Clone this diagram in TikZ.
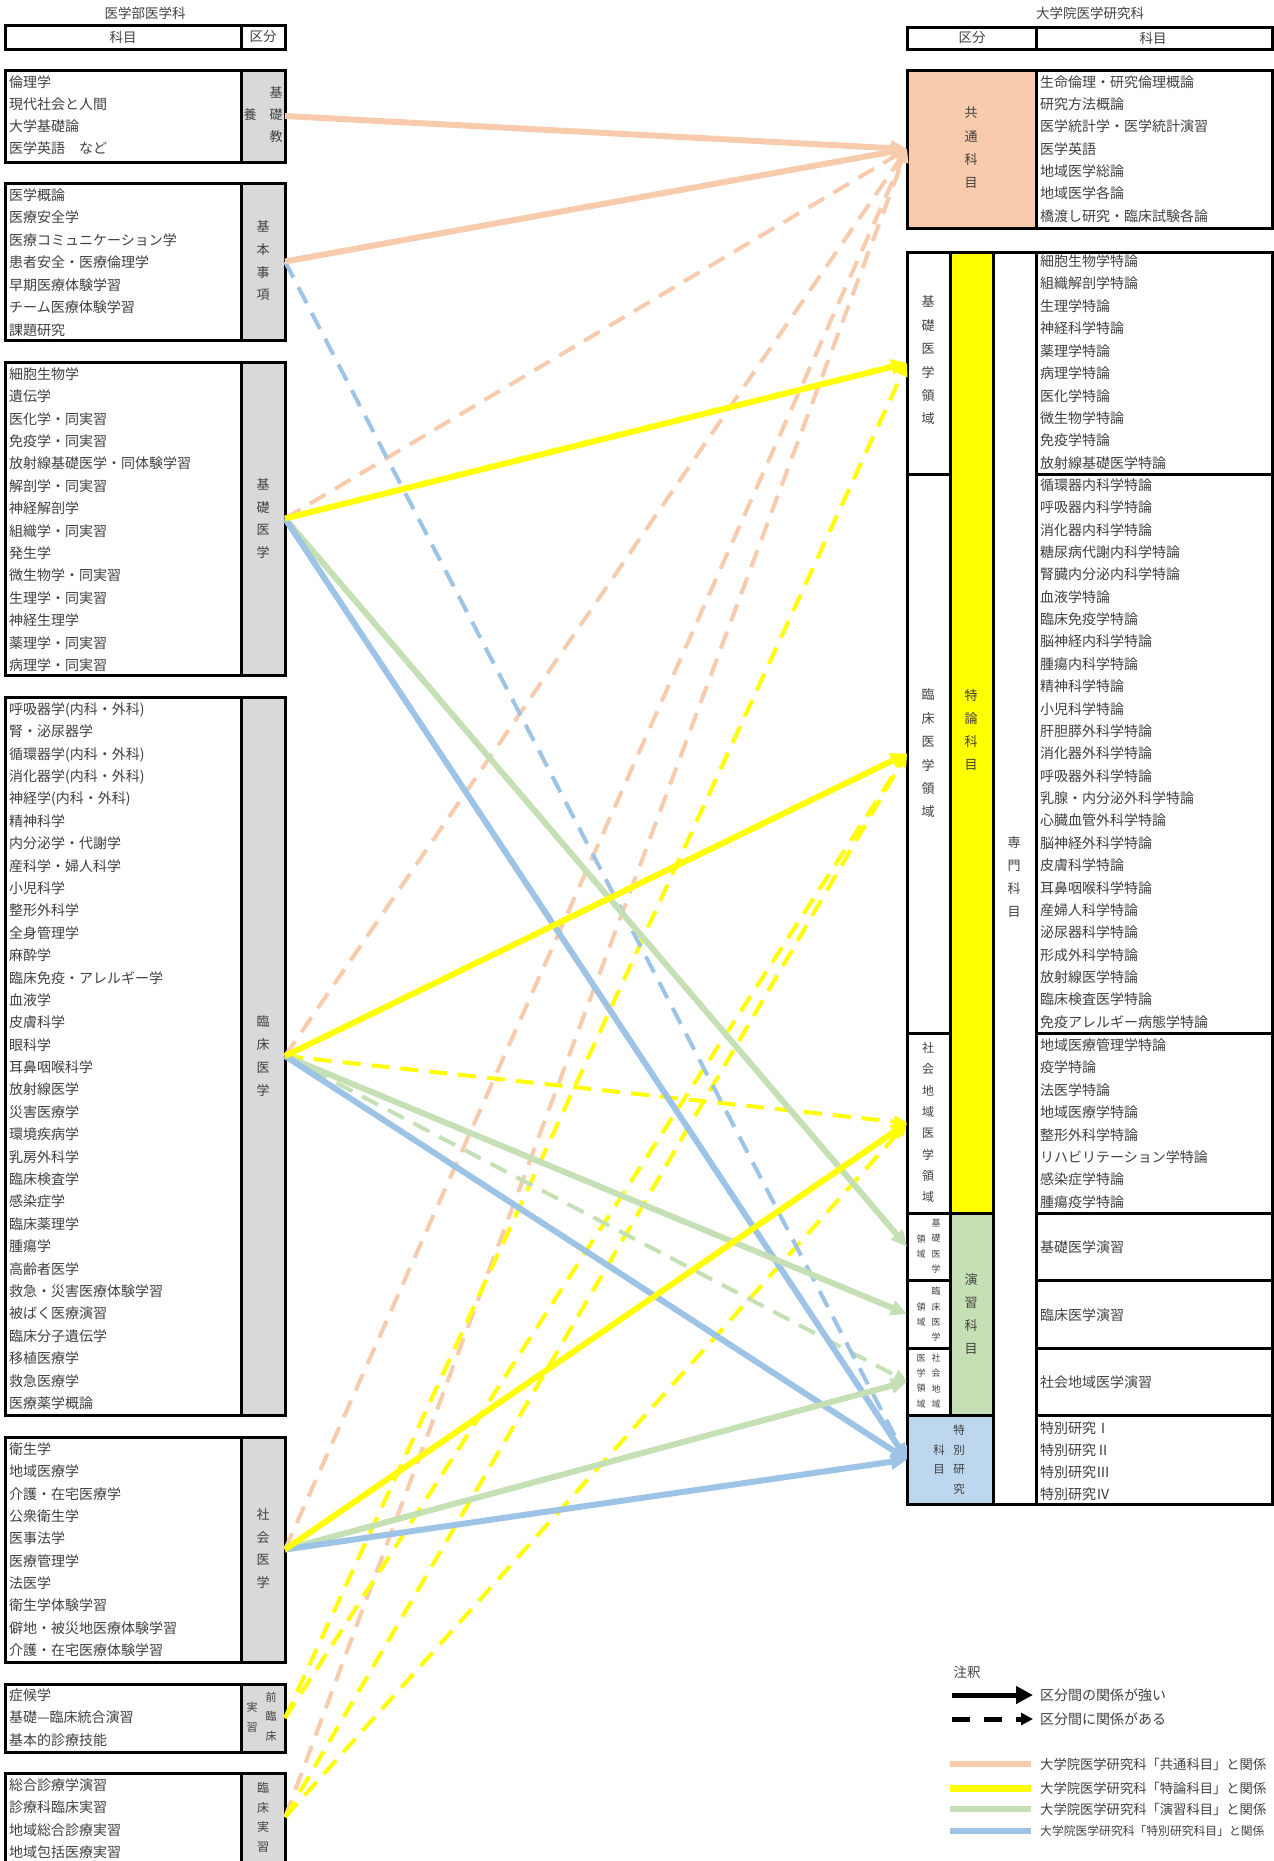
\documentclass[tikz,border=0pt]{standalone}
\usepackage{fontspec}
\setmainfont{Noto Sans CJK JP}
\usetikzlibrary{arrows.meta}
\definecolor{ink}{HTML}{404040}
\definecolor{cOr}{HTML}{F8CBAD}
\definecolor{cYe}{HTML}{FFFF00}
\definecolor{cGr}{HTML}{C5E0B4}
\definecolor{cBl}{HTML}{9DC3E6}
\definecolor{cBlF}{HTML}{BDD7EE}
\definecolor{cGy}{HTML}{D9D9D9}
\begin{document}
\begin{tikzpicture}[x=1pt,y=-1pt,
  box/.style={draw=black, line width=3pt, rectangle, inner sep=0pt, outer sep=0pt},
  grey/.style={box, fill=cGy},
  lst/.style={anchor=west, align=left, inner sep=0pt, text=ink, font=\fontsize{14}{#1}\selectfont},
  lst/.default=22.4,
  vt/.style 2 args={align=center, inner sep=0pt, text=ink, font=\fontsize{#1}{#2}\selectfont},
  ttl/.style={inner sep=0pt, text=ink, font=\fontsize{13.5}{16}\selectfont},
  strong/.style={line width=6pt, -{Triangle[length=16pt,width=15pt]}},
  weak/.style={line width=4pt, dash pattern=on 18pt off 11pt, -{Triangle[length=13pt,width=12pt]}}
]
\useasboundingbox (0,0) rectangle (1274,1861);

% ---------------- left table: 医学部医学科 ----------------
\node[ttl] (titleL) at (145,13) {医学部医学科};
\node[box, minimum width=280, minimum height=24] (hdL) at (145,37) {};
\node[box, minimum width=44, minimum height=24] (hdLk) at (263,37) {};
\node[ttl] (hdL1) at (123,37) {科目};
\node[ttl] (hdL2) at (263,37) {区分};

% 基礎教養
\node[box, minimum width=280, minimum height=92] (bA) at (145,116) {};
\node[grey, minimum width=44, minimum height=92] (lA) at (263,116) {};
\node[vt={13}{22}] (lAt1) at (276,115) {基\\礎\\教};
\node[vt={13}{22}] (lAt2) at (250,115) {養};
\node[lst=22] (sA) at (9,115) {倫理学\\現代社会と人間\\大学基礎論\\医学英語　など};

% 基本事項
\node[box, minimum width=280, minimum height=157] (bB) at (145,261.5) {};
\node[grey, minimum width=44, minimum height=157] (lB) at (263,261.5) {};
\node[vt={13}{22.7}] (lBt) at (263,261) {基\\本\\事\\項};
\node[lst=22.5] (sB) at (9,262.5) {医学概論\\医療安全学\\医療コミュニケーション学\\患者安全・医療倫理学\\早期医療体験学習\\チーム医療体験学習\\課題研究};

% 基礎医学
\node[box, minimum width=280, minimum height=313] (bC) at (145,518.5) {};
\node[grey, minimum width=44, minimum height=313] (lC) at (263,518.5) {};
\node[vt={13}{22.4}] (lCt) at (263,518.5) {基\\礎\\医\\学};
\node[lst=22.4] (sC) at (9,519.5) {細胞生物学\\遺伝学\\医化学・同実習\\免疫学・同実習\\放射線基礎医学・同体験学習\\解剖学・同実習\\神経解剖学\\組織学・同実習\\発生学\\微生物学・同実習\\生理学・同実習\\神経生理学\\薬理学・同実習\\病理学・同実習};

% 臨床医学
\node[box, minimum width=280, minimum height=718] (bD) at (145,1056) {};
\node[grey, minimum width=44, minimum height=718] (lD) at (263,1056) {};
\node[vt={13}{22.7}] (lDt) at (263,1056) {臨\\床\\医\\学};
\node[lst=22.39] (sD) at (9,1056) {呼吸器学(内科・外科)\\腎・泌尿器学\\循環器学(内科・外科)\\消化器学(内科・外科)\\神経学(内科・外科)\\精神科学\\内分泌学・代謝学\\産科学・婦人科学\\小児科学\\整形外科学\\全身管理学\\麻酔学\\臨床免疫・アレルギー学\\血液学\\皮膚科学\\眼科学\\耳鼻咽喉科学\\放射線医学\\災害医療学\\環境疾病学\\乳房外科学\\臨床検査学\\感染症学\\臨床薬理学\\腫瘍学\\高齢者医学\\救急・災害医療体験学習\\被ばく医療演習\\臨床分子遺伝学\\移植医療学\\救急医療学\\医療薬学概論};

% 社会医学
\node[box, minimum width=280, minimum height=225] (bE) at (145,1549.5) {};
\node[grey, minimum width=44, minimum height=225] (lE) at (263,1549.5) {};
\node[vt={13}{22.4}] (lEt) at (263,1548.5) {社\\会\\医\\学};
\node[lst=22.33] (sE) at (9,1549.5) {衛生学\\地域医療学\\介護・在宅医療学\\公衆衛生学\\医事法学\\医療管理学\\法医学\\衛生学体験学習\\僻地・被災地医療体験学習\\介護・在宅医療体験学習};

% 前臨床実習
\node[box, minimum width=280, minimum height=68] (bF) at (145,1718) {};
\node[grey, minimum width=44, minimum height=68] (lF) at (263,1718) {};
\node[vt={11}{19.5}] (lFt1) at (271,1716.5) {前\\臨\\床};
\node[vt={11}{20}] (lFt2) at (252,1717) {実\\習};
\node[lst=22.5] (sF) at (9,1717.5) {症候学\\基礎—臨床統合演習\\基本的診療技能};

% 臨床実習 (runs past the lower edge)
\node[fill=cGy, inner sep=0pt, minimum width=44, minimum height=88] (lG) at (263,1817) {};
\draw[line width=3pt] (5,1875) -- (5,1773) -- (285,1773) -- (285,1875);
\draw[line width=3pt] (241,1773) -- (241,1875);
\node[vt={12}{19.7}] (lGt) at (263,1817.5) {臨\\床\\実\\習};
\node[lst=22.3] (sG) at (9,1818.5) {総合診療学演習\\診療科臨床実習\\地域総合診療実習\\地域包括医療実習};

% ---------------- right table: 大学院医学研究科 ----------------
\node[ttl] (titleR) at (1090,13) {大学院医学研究科};
\node[box, minimum width=365, minimum height=22] (hdR) at (1089.5,38) {};
\node[box, minimum width=129, minimum height=22] (hdRk) at (971.5,38) {};
\node[ttl] (hdR1) at (972,38) {区分};
\node[ttl] (hdR2) at (1153,38) {科目};

% 共通科目
\node[box, minimum width=365, minimum height=158] (bK) at (1089.5,149) {};
\node[box, fill=cOr, minimum width=129, minimum height=158] (rK) at (971.5,149) {};
\node[vt={13}{23.3}] (rKt) at (971,148) {共\\通\\科\\目};
\node[lst=22.33] (tK) at (1040,149) {生命倫理・研究倫理概論\\研究方法概論\\医学統計学・医学統計演習\\医学英語\\地域医学総論\\地域医学各論\\橋渡し研究・臨床試験各論};

% 専門科目 block
\node[box, minimum width=365, minimum height=1252] (bP) at (1089.5,878) {};
\node[box, fill=cYe, minimum width=43, minimum height=961] (rY) at (971.5,732.5) {};
\node[box, fill=cGr, minimum width=43, minimum height=202] (rG) at (971.5,1314) {};
\node[box, minimum width=43, minimum height=1252] (rP) at (1014.5,878) {};
\node[box, minimum width=43, minimum height=222] (rB) at (928.5,363) {};
\node[box, minimum width=43, minimum height=559] (rC) at (928.5,753.5) {};
\node[box, minimum width=43, minimum height=180] (rS) at (928.5,1123) {};
\node[box, minimum width=43, minimum height=67] (rEB) at (928.5,1246.5) {};
\node[box, minimum width=43, minimum height=68] (rEC) at (928.5,1314) {};
\node[box, minimum width=43, minimum height=67] (rES) at (928.5,1381.5) {};
\node[box, fill=cBlF, minimum width=86, minimum height=89] (rT) at (950,1459.5) {};
\node[box, minimum width=236, minimum height=222] (cB) at (1154,363) {};
\node[box, minimum width=236, minimum height=559] (cC) at (1154,753.5) {};
\node[box, minimum width=236, minimum height=180] (cS) at (1154,1123) {};
\node[box, minimum width=236, minimum height=67] (cEB) at (1154,1246.5) {};
\node[box, minimum width=236, minimum height=68] (cEC) at (1154,1314) {};
\node[box, minimum width=236, minimum height=67] (cES) at (1154,1381.5) {};
\node[box, minimum width=236, minimum height=89] (cT) at (1154,1459.5) {};

\node[vt={13}{23.4}] (rBt) at (928,360.5) {基\\礎\\医\\学\\領\\域};
\node[vt={13}{23.4}] (rCt) at (928,753.5) {臨\\床\\医\\学\\領\\域};
\node[vt={12}{21.3}] (rSt) at (928,1122.5) {社\\会\\地\\域\\医\\学\\領\\域};
\node[vt={13}{23.3}] (rYt) at (971,730) {特\\論\\科\\目};
\node[vt={13}{23.3}] (rPt) at (1014,877) {専\\門\\科\\目};
\node[vt={13}{23}] (rGt) at (971,1314.5) {演\\習\\科\\目};
\node[vt={9}{15.3}] (rEBt1) at (936,1246) {基\\礎\\医\\学};
\node[vt={9}{15.3}] (rEBt2) at (921,1246.5) {領\\域};
\node[vt={9}{15.3}] (rECt1) at (936,1314.5) {臨\\床\\医\\学};
\node[vt={9}{15.3}] (rECt2) at (921,1314.5) {領\\域};
\node[vt={9}{15.3}] (rESt1) at (936,1381) {社\\会\\地\\域};
\node[vt={9}{15.3}] (rESt2) at (921,1381) {医\\学\\領\\域};
\node[vt={11.5}{19.7}] (rTt1) at (959,1459.5) {特\\別\\研\\究};
\node[vt={11.5}{19.7}] (rTt2) at (939,1459.5) {科\\目};

\node[lst=22.44] (tB) at (1040,362) {細胞生物学特論\\組織解剖学特論\\生理学特論\\神経科学特論\\薬理学特論\\病理学特論\\医化学特論\\微生物学特論\\免疫学特論\\放射線基礎医学特論};
\node[lst=22.375] (tC) at (1040,753.5) {循環器内科学特論\\呼吸器内科学特論\\消化器内科学特論\\糖尿病代謝内科学特論\\腎臓内分泌内科学特論\\血液学特論\\臨床免疫学特論\\脳神経内科学特論\\腫瘍内科学特論\\精神科学特論\\小児科学特論\\肝胆膵外科学特論\\消化器外科学特論\\呼吸器外科学特論\\乳腺・内分泌外科学特論\\心臓血管外科学特論\\脳神経外科学特論\\皮膚科学特論\\耳鼻咽喉科学特論\\産婦人科学特論\\泌尿器科学特論\\形成外科学特論\\放射線医学特論\\臨床検査医学特論\\免疫アレルギー病態学特論};
\node[lst=22.43] (tS) at (1040,1123.5) {地域医療管理学特論\\疫学特論\\法医学特論\\地域医療学特論\\整形外科学特論\\リハビリテーション学特論\\感染症学特論\\腫瘍疫学特論};
\node[lst] (tEB) at (1040,1247) {基礎医学演習};
\node[lst] (tEC) at (1040,1315) {臨床医学演習};
\node[lst] (tES) at (1040,1382) {社会地域医学演習};
\node[lst=22] (tT) at (1040,1461) {特別研究Ⅰ\\特別研究Ⅱ\\特別研究Ⅲ\\特別研究Ⅳ};

% ---------------- connectors ----------------
% 共通科目
\draw[weak, cOr] (lC.east) -- (rK.west);
\draw[weak, cOr] (lD.east) -- (rK.west);
\draw[weak, cOr] (lE.east) -- (rK.west);
\draw[weak, cOr] (lG.east) -- (rK.west);
% 特論科目
\draw[weak, cYe] (lD.east) -- (rS.west);
\draw[weak, cYe] (lF.east) -- (rB.west);
\draw[weak, cYe] (lF.east) -- (rC.west);
\draw[weak, cYe] (lG.east) -- (rC.west);
\draw[weak, cYe] (lG.east) -- (rS.west);
% 演習科目 / 特別研究科目
\draw[weak, cGr] (lD.east) -- (rES.west);
\draw[weak, cBl] (lB.east) -- (rT.west);
% strong relations
\draw[strong, cOr] (lA.east) -- (rK.west);
\draw[strong, cOr] (lB.east) -- (rK.west);
\draw[strong, cGr] (lC.east) -- (rEB.west);
\draw[strong, cBl] (lC.east) -- (rT.west);
\draw[strong, cYe] (lC.east) -- (rB.west);
\draw[strong, cGr] (lD.east) -- (rEC.west);
\draw[strong, cBl] (lD.east) -- (rT.west);
\draw[strong, cYe] (lD.east) -- (rC.west);
\draw[strong, cGr] (lE.east) -- (rES.west);
\draw[strong, cBl] (lE.east) -- (rT.west);
\draw[strong, cYe] (lE.east) -- (rS.west);

% ---------------- legend ----------------
\node[ttl] (noteT) at (967,1672) {注釈};
\coordinate (kS1) at (952,1695); \coordinate (kS2) at (1033,1695);
\coordinate (kD1) at (952,1719); \coordinate (kD2) at (1033,1719);
\draw[line width=5pt, -{Triangle[length=17pt,width=17pt]}] (kS1) -- (kS2);
\draw[line width=5pt, dash pattern=on 18pt off 14pt, -{Triangle[length=12pt,width=12pt]}] (kD1) -- (kD2);
\node[lst] (kSt) at (1040,1695) {区分間の関係が強い};
\node[lst] (kDt) at (1040,1719) {区分間に関係がある};
\draw[cOr, line width=6pt] (950,1764) -- (1031,1764);
\draw[cYe, line width=7pt] (950,1788) -- (1031,1788);
\draw[cGr, line width=6pt] (950,1809) -- (1031,1809);
\draw[cBl, line width=6pt] (950,1831) -- (1031,1831);
\node[anchor=west, inner sep=0pt, text=ink, font=\fontsize{13.3}{16}\selectfont] (kOr) at (1040,1764) {大学院医学研究科「共通科目」と関係};
\node[anchor=west, inner sep=0pt, text=ink, font=\fontsize{13.3}{16}\selectfont] (kYe) at (1040,1788) {大学院医学研究科「特論科目」と関係};
\node[anchor=west, inner sep=0pt, text=ink, font=\fontsize{13.3}{16}\selectfont] (kGr) at (1040,1809) {大学院医学研究科「演習科目」と関係};
\node[anchor=west, inner sep=0pt, text=ink, font=\fontsize{11.8}{14}\selectfont] (kBl) at (1040,1831) {大学院医学研究科「特別研究科目」と関係};
\end{tikzpicture}
\end{document}
